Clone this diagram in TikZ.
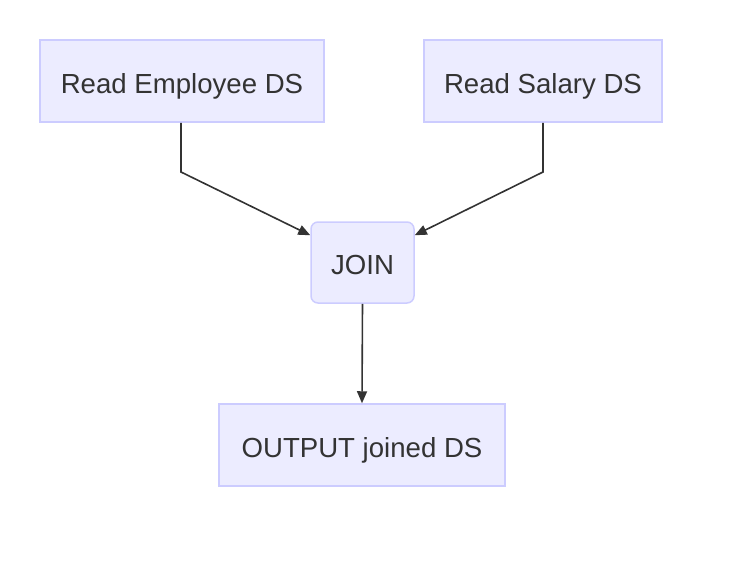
\documentclass[tikz,border=0pt]{standalone}
\usepackage{fontspec}
\setmainfont{Liberation Sans}
\usetikzlibrary{arrows.meta}
\definecolor{nodefill}{HTML}{ECECFF}
\definecolor{nodeline}{HTML}{CCCCFF}
\definecolor{txt}{HTML}{333333}
\definecolor{edge}{HTML}{333333}
\begin{document}
\begin{tikzpicture}[x=1pt,y=-1pt,
  box/.style={draw=nodeline, fill=nodefill, line width=1.5pt, inner sep=0pt,
    text height=24pt, text depth=0pt,
    text=txt, font=\fontsize{27.6}{32}\selectfont},
  arr/.style={draw=edge, line width=1.6pt, -{Triangle[length=12pt,width=10pt]}}]
\useasboundingbox (0,0) rectangle (742,566);
\node[box, minimum width=284pt, minimum height=82pt] (emp) at (182,81) {Read Employee DS};
\node[box, minimum width=238pt, minimum height=82pt] (sal) at (543,81) {Read Salary DS};
\node[box, rounded corners=7pt, minimum width=103pt, minimum height=81pt] (join) at (362.5,262.5) {JOIN};
\node[box, minimum width=286pt, minimum height=82pt] (out) at (362,445) {OUTPUT joined DS};
\coordinate (b1) at (181,172);
\coordinate (b2) at (543,172);
\draw[arr] (emp.south -| b1) -- (b1) -- ([yshift=-14pt]join.north west);
\draw[arr] (sal.south) -- (b2) -- ([yshift=-14pt]join.north east);
\draw[arr] (join.south) -- (out.north);
\end{tikzpicture}
\end{document}
